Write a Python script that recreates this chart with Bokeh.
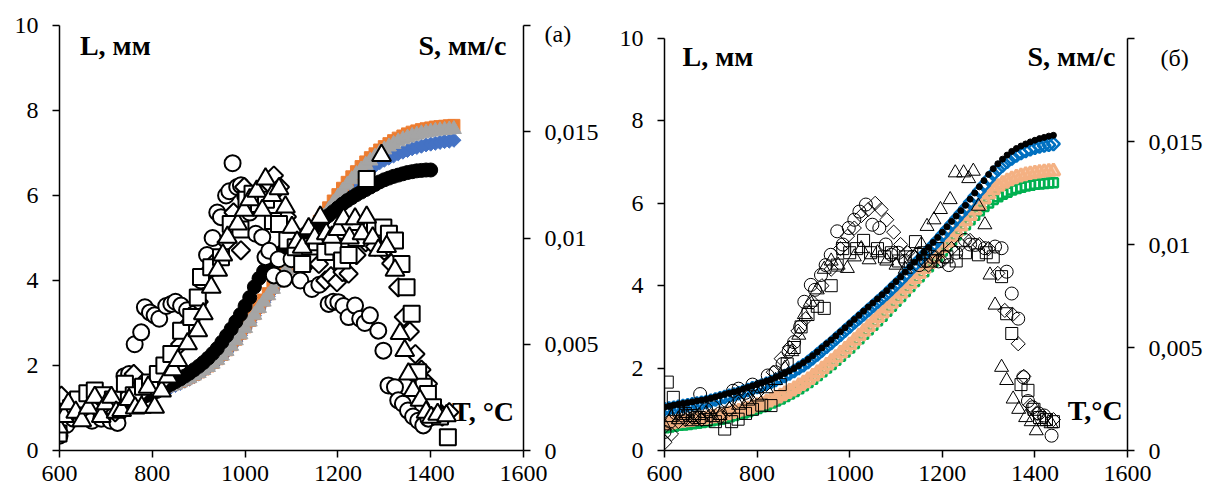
from bokeh.plotting import figure
from bokeh.models import Range1d, LinearAxis, FixedTicker, CustomJSTickFormatter, Label
from bokeh.layouts import row
from bokeh.embed import file_html
from bokeh.resources import INLINE
import math

FONT = "Liberation Serif"

X_TICKS = [600, 800, 1000, 1200, 1400, 1600]
L_TICKS = [0, 2, 4, 6, 8, 10]
S_TICKS = [0, 5, 10, 15, 20]          # S in 10^-3 mm/s
S_LABELS = ["0", "0,005", "0,01", "0,015"]

# ---------------- panel (a): L, mm (dense curves, 10 degC step from 600) -------------
a_L_black = [0.85, 0.88, 0.9, 0.92, 0.94, 0.96, 0.98, 1.0, 1.02, 1.04, 1.06, 1.08, 1.1, 1.12, 1.15,
             1.18, 1.2, 1.23, 1.26, 1.3, 1.34, 1.39, 1.44, 1.5, 1.56, 1.62, 1.68, 1.75, 1.82, 1.9,
             1.98, 2.07, 2.17, 2.28, 2.4, 2.55, 2.7, 2.86, 3.03, 3.2, 3.4, 3.6, 3.85, 4.05, 4.22,
             4.35, 4.47, 4.58, 4.68, 4.78, 4.87, 4.95, 5.03, 5.1, 5.18, 5.26, 5.35, 5.44, 5.53, 5.62,
             5.71, 5.8, 5.88, 5.95, 6.02, 6.08, 6.14, 6.2, 6.26, 6.32, 6.37, 6.41, 6.45, 6.48, 6.51,
             6.54, 6.56, 6.58, 6.59, 6.6, 6.6]
a_L_grey = [0.95, 0.98, 1.0, 1.02, 1.04, 1.06, 1.08, 1.1, 1.12, 1.14, 1.16, 1.18, 1.2, 1.22, 1.24,
            1.26, 1.28, 1.3, 1.33, 1.36, 1.39, 1.42, 1.45, 1.48, 1.51, 1.55, 1.6, 1.65, 1.7, 1.76,
            1.82, 1.89, 1.96, 2.04, 2.13, 2.23, 2.34, 2.46, 2.59, 2.73, 2.88, 3.03, 3.19, 3.35, 3.5,
            3.65, 3.8, 3.95, 4.1, 4.25, 4.4, 4.55, 4.7, 4.86, 5.02, 5.18, 5.34, 5.5, 5.66, 5.82,
            5.97, 6.11, 6.25, 6.38, 6.5, 6.61, 6.72, 6.82, 6.91, 7.0, 7.08, 7.15, 7.21, 7.27, 7.32,
            7.36, 7.4, 7.43, 7.46, 7.48, 7.5, 7.52, 7.53, 7.54, 7.55, 7.56]
a_L_orange = [1.0, 1.02, 1.04, 1.06, 1.08, 1.1, 1.12, 1.14, 1.16, 1.18, 1.2, 1.22, 1.24, 1.26, 1.28,
              1.3, 1.32, 1.34, 1.37, 1.4, 1.43, 1.46, 1.49, 1.52, 1.55, 1.59, 1.63, 1.68, 1.73, 1.79,
              1.85, 1.92, 1.99, 2.07, 2.16, 2.26, 2.37, 2.49, 2.62, 2.76, 2.91, 3.06, 3.22, 3.38, 3.54,
              3.69, 3.84, 3.99, 4.14, 4.29, 4.44, 4.59, 4.75, 4.91, 5.07, 5.23, 5.39, 5.55, 5.71, 5.87,
              6.02, 6.17, 6.31, 6.44, 6.56, 6.68, 6.79, 6.89, 6.98, 7.07, 7.15, 7.22, 7.29, 7.35, 7.4,
              7.45, 7.49, 7.52, 7.55, 7.57, 7.59, 7.61, 7.62, 7.63, 7.64, 7.65]
a_L_blue = [0.92, 0.95, 0.97, 0.99, 1.01, 1.03, 1.05, 1.07, 1.09, 1.11, 1.13, 1.15, 1.17, 1.19, 1.21,
            1.23, 1.25, 1.28, 1.31, 1.34, 1.37, 1.4, 1.43, 1.46, 1.49, 1.53, 1.58, 1.63, 1.68, 1.74,
            1.8, 1.87, 1.94, 2.02, 2.11, 2.21, 2.32, 2.44, 2.57, 2.71, 2.86, 3.01, 3.17, 3.33, 3.48,
            3.63, 3.78, 3.93, 4.08, 4.23, 4.38, 4.53, 4.68, 4.84, 5.0, 5.16, 5.32, 5.47, 5.62, 5.77,
            5.91, 6.04, 6.16, 6.27, 6.37, 6.46, 6.55, 6.63, 6.7, 6.77, 6.83, 6.88, 6.93, 6.98, 7.02,
            7.06, 7.1, 7.13, 7.16, 7.19, 7.21, 7.23, 7.25, 7.27, 7.28, 7.3]

# ---------------- panel (a): S, 10^-3 mm/s ----------------
a_S_circle_T = [600, 615, 630, 650, 670, 690, 710, 725, 740, 750, 762, 776, 784, 795, 805, 815, 830, 841,
                850, 862, 875, 891, 905, 918, 930, 940, 948, 959, 966, 973, 983, 991, 1000, 1010, 1023,
                1037, 1044, 1052, 1062, 1072, 1084, 1100, 1119, 1130, 1144, 1160, 1180, 1190, 1201, 1212,
                1223, 1237, 1248, 1258, 1269, 1287, 1298, 1309, 1323, 1330, 1340, 1351, 1362, 1373, 1384, 1395]
a_S_circle = [0.7, 1.2, 1.5, 1.6, 1.4, 1.5, 1.4, 1.3, 3.5, 3.6, 5.0, 5.56, 6.74, 6.5, 6.36, 6.2, 6.8, 6.9,
              7.0, 6.82, 6.6, 6.44, 8.0, 9.2, 10.0, 11.2, 10.98, 12.0, 12.2, 13.52, 12.4, 12.48, 12.0, 11.2, 10.2,
              10.04, 9.1, 9.4, 8.24, 9.0, 8.08, 9.0, 8.0, 8.8, 7.6, 7.8, 6.9, 7.0, 6.98, 6.8,
              6.28, 6.82, 6.2, 6.0, 6.36, 5.64, 4.7, 3.06, 2.98, 2.36, 2.2, 1.88, 1.6, 1.4, 1.18, 1.5]
a_S_square_T = [598, 612, 625, 640, 660, 676, 695, 715, 741, 760, 780, 795, 812, 826, 841, 862, 884, 898,
                905, 927, 948, 969, 990, 1003, 1016, 1030, 1045, 1060, 1073, 1091, 1109, 1123, 1140, 1155,
                1173, 1190, 1209, 1223, 1240, 1262, 1280, 1298, 1310, 1323, 1337, 1348, 1359, 1373, 1385,
                1394, 1405, 1420, 1437]
a_S_square = [0.8, 1.8, 2.0, 2.4, 2.7, 2.82, 2.6, 2.4, 3.14, 2.6, 3.0, 3.2, 3.6, 4.0, 4.54, 5.64, 6.28, 7.2,
              8.16, 8.62, 9.1, 10.66, 10.4, 11.8, 12.08, 11.6, 11.8, 10.8, 10.66, 9.88, 9.56, 8.78, 9.6, 9.8,
              9.34, 9.6, 8.94, 9.2, 10.0, 12.78, 10.4, 10.5, 10.2, 9.88, 8.78, 7.68, 6.44, 3.68, 3.0,
              2.66, 2.04, 1.6, 0.62]
a_S_tri_T = [598, 610, 619, 635, 648, 662, 676, 690, 700, 712, 722, 734, 750, 763, 777, 791, 805, 820, 834,
             845, 855, 876, 898, 910, 927, 941, 952, 962, 984, 998, 1010, 1025, 1037, 1044, 1058, 1073,
             1087, 1101, 1112, 1123, 1137, 1150, 1162, 1175, 1187, 1200, 1212, 1225, 1237, 1252, 1262,
             1275, 1287, 1294, 1305, 1323, 1334, 1344, 1352, 1362, 1377, 1390, 1401, 1415, 1434]
a_S_tri = [1.1, 1.6, 2.2, 1.8, 1.4, 2.0, 2.5, 1.6, 2.2, 2.5, 1.8, 1.88, 2.4, 2.0, 2.04, 2.98, 2.04, 2.8, 3.46,
           3.8, 4.24, 5.02, 5.64, 6.44, 7.68, 8.48, 9.2, 10.04, 10.66, 11.3, 11.8, 12.2, 11.3, 12.78, 12.0, 12.32,
           11.46, 10.5, 9.8, 9.56, 10.44, 10.0, 10.98, 10.2, 10.04, 10.4, 10.9, 10.0, 10.9, 10.2, 10.98,
           10.0, 9.42, 13.88, 9.6, 8.48, 5.5, 4.7, 3.6, 2.82, 2.36, 1.8, 1.56, 1.7, 1.64]
a_S_dia_T = [604, 620, 640, 660, 680, 700, 720, 740, 760, 780, 800, 820, 840, 860, 880, 900, 920, 940, 960,
             975, 991, 998, 1010, 1030, 1050, 1062, 1075, 1090, 1105, 1120, 1140, 1159, 1173, 1185, 1198,
             1210, 1223, 1240, 1260, 1280, 1300, 1315, 1330, 1342, 1355, 1367, 1380, 1394, 1410, 1425, 1440]
a_S_dia = [2.58, 2.0, 2.2, 2.4, 2.0, 2.2, 1.8, 2.4, 3.6, 2.8, 3.0, 3.2, 4.0, 5.0, 6.0, 7.0, 8.4, 9.0, 9.8,
           11.2, 9.42, 12.4, 11.6, 12.2, 12.6, 12.94, 12.4, 11.0, 10.0, 9.4, 9.2, 8.78, 8.0, 8.2, 7.92,
           8.4, 8.32, 9.2, 9.8, 9.6, 9.4, 8.8, 7.68, 6.28, 5.6, 4.54, 3.8, 3.14, 2.0, 1.6, 1.8]

# ---------------- panel (b): L, mm (dense curves, 10 degC step from 600) -------------
b_L_black = [1.05, 1.07, 1.1, 1.12, 1.14, 1.16, 1.18, 1.2, 1.22, 1.24, 1.27, 1.3, 1.33, 1.36, 1.39,
             1.42, 1.45, 1.49, 1.53, 1.57, 1.6, 1.64, 1.68, 1.72, 1.77, 1.82, 1.87, 1.93, 1.99, 2.06,
             2.13, 2.21, 2.3, 2.39, 2.49, 2.59, 2.68, 2.78, 2.88, 2.98, 3.08, 3.18, 3.28, 3.38, 3.48,
             3.58, 3.68, 3.78, 3.88, 3.99, 4.1, 4.21, 4.33, 4.45, 4.57, 4.69, 4.81, 4.93, 5.05, 5.17,
             5.3, 5.43, 5.56, 5.69, 5.82, 5.95, 6.1, 6.25, 6.4, 6.55, 6.7, 6.84, 6.96, 7.07, 7.17,
             7.26, 7.33, 7.39, 7.44, 7.49, 7.53, 7.57, 7.6, 7.63, 7.65]
b_L_blue = [1.0, 1.02, 1.04, 1.06, 1.08, 1.1, 1.12, 1.14, 1.16, 1.18, 1.21, 1.24, 1.27, 1.3, 1.33,
            1.36, 1.39, 1.43, 1.47, 1.51, 1.54, 1.58, 1.62, 1.66, 1.71, 1.76, 1.81, 1.87, 1.93, 2.0,
            2.07, 2.15, 2.24, 2.33, 2.43, 2.52, 2.61, 2.71, 2.81, 2.91, 3.01, 3.11, 3.21, 3.31, 3.41,
            3.51, 3.61, 3.71, 3.81, 3.92, 4.03, 4.14, 4.26, 4.38, 4.5, 4.62, 4.74, 4.86, 4.98, 5.1,
            5.23, 5.36, 5.49, 5.62, 5.75, 5.88, 6.02, 6.16, 6.3, 6.44, 6.58, 6.71, 6.82, 6.92, 7.01,
            7.09, 7.16, 7.22, 7.27, 7.31, 7.35, 7.38, 7.4, 7.42, 7.44]
b_L_salmon = [0.62, 0.64, 0.66, 0.68, 0.69, 0.7, 0.72, 0.73, 0.75, 0.77, 0.79, 0.81, 0.83, 0.86, 0.89,
              0.92, 0.95, 0.98, 1.01, 1.05, 1.09, 1.13, 1.17, 1.22, 1.27, 1.32, 1.38, 1.44, 1.5, 1.57,
              1.64, 1.72, 1.8, 1.89, 1.98, 2.07, 2.16, 2.26, 2.36, 2.46, 2.56, 2.67, 2.78, 2.89, 3.0,
              3.11, 3.22, 3.33, 3.45, 3.57, 3.69, 3.81, 3.93, 4.05, 4.17, 4.29, 4.41, 4.53, 4.66, 4.79,
              4.92, 5.05, 5.18, 5.31, 5.44, 5.57, 5.7, 5.83, 5.96, 6.1, 6.22, 6.32, 6.41, 6.48, 6.54,
              6.59, 6.63, 6.66, 6.69, 6.71, 6.73, 6.75, 6.76, 6.77, 6.78]
b_L_green = [0.55, 0.57, 0.59, 0.61, 0.62, 0.63, 0.65, 0.66, 0.68, 0.7, 0.72, 0.74, 0.76, 0.79, 0.82,
             0.85, 0.88, 0.91, 0.94, 0.98, 1.02, 1.06, 1.1, 1.15, 1.2, 1.25, 1.31, 1.37, 1.43, 1.5,
             1.57, 1.65, 1.73, 1.82, 1.91, 2.0, 2.09, 2.19, 2.29, 2.39, 2.49, 2.6, 2.71, 2.82, 2.93,
             3.04, 3.15, 3.26, 3.38, 3.5, 3.62, 3.74, 3.86, 3.98, 4.1, 4.22, 4.34, 4.46, 4.58, 4.71,
             4.84, 4.97, 5.1, 5.23, 5.36, 5.48, 5.6, 5.71, 5.82, 5.92, 6.01, 6.09, 6.16, 6.22, 6.27,
             6.32, 6.36, 6.39, 6.42, 6.44, 6.46, 6.47, 6.48, 6.49, 6.5]

# ---------------- panel (b): S, 10^-3 mm/s ----------------
b_S_circle_T = [600, 612, 625, 640, 655, 665, 677, 690, 705, 720, 735, 748, 760, 775, 790, 805, 823, 840,
                855, 868, 880, 893, 902, 916, 925, 938, 948, 959, 973, 985, 998, 1010, 1021, 1035, 1049,
                1064, 1078, 1090, 1105, 1120, 1135, 1150, 1165, 1178, 1192, 1205, 1214, 1230, 1249, 1260,
                1271, 1292, 1314, 1328, 1339, 1350, 1364, 1375, 1385, 1395, 1408, 1420, 1436]
b_S_circle = [0.9, 1.4, 1.8, 1.7, 2.0, 1.6, 2.74, 2.0, 2.1, 1.8, 2.4, 2.9, 3.0, 2.8, 3.2, 3.1, 3.64, 3.8,
              4.2, 4.8, 5.26, 6.0, 7.22, 8.04, 7.8, 8.52, 9.0, 9.5, 10.64, 10.0, 10.8, 11.2, 11.6, 11.94, 10.96,
              10.8, 10.0, 9.5, 9.6, 9.2, 9.4, 9.0, 9.2, 9.4, 9.18, 9.4, 9.0, 9.6, 10.22, 10.0,
              9.98, 9.82, 9.9, 9.82, 8.68, 7.62, 6.4, 3.56, 2.4, 2.1, 1.8, 1.7, 0.72]
b_S_square_T = [606, 619, 630, 645, 660, 675, 690, 710, 730, 745, 759, 775, 790, 810, 830, 850, 865, 880,
                895, 910, 930, 945, 960, 973, 985, 1000, 1015, 1030, 1045, 1060, 1075, 1090, 1105, 1120,
                1142, 1160, 1175, 1190, 1210, 1230, 1250, 1278, 1295, 1310, 1328, 1339, 1350, 1370, 1385,
                1398, 1410, 1425, 1440]
b_S_square = [3.32, 2.58, 2.0, 1.8, 1.7, 1.6, 1.5, 1.4, 1.04, 1.4, 1.52, 1.8, 2.0, 2.2, 2.18, 3.2, 4.2, 5.0,
              6.0, 6.6, 7.0, 6.9, 8.0, 9.0, 9.8, 9.6, 9.8, 10.2, 9.6, 9.8, 9.4, 9.6, 9.2, 9.4,
              10.14, 9.6, 9.2, 9.8, 9.4, 9.2, 9.6, 9.5, 9.6, 9.4, 8.44, 6.64, 5.68, 3.2, 2.92,
              2.0, 1.6, 1.5, 1.4]
b_S_tri_T = [600, 615, 630, 645, 660, 675, 690, 705, 720, 740, 760, 780, 800, 820, 840, 860, 875, 890, 902,
             915, 930, 945, 960, 975, 995, 1010, 1025, 1042, 1060, 1080, 1100, 1120, 1140, 1155, 1167,
             1182, 1196, 1217, 1228, 1246, 1257, 1267, 1278, 1292, 1303, 1314, 1328, 1339, 1353, 1365,
             1380, 1392, 1403, 1420, 1435]
b_S_tri = [1.2, 1.6, 1.5, 1.8, 1.4, 1.7, 1.8, 1.6, 1.7, 2.0, 2.2, 2.4, 2.6, 3.0, 3.4, 4.0, 4.8, 5.6, 6.6,
           7.2, 7.8, 8.8, 9.2, 9.0, 8.84, 9.4, 9.8, 9.26, 9.6, 9.2, 9.0, 8.8, 9.4, 10.0, 10.88,
           11.2, 11.7, 12.18, 13.48, 13.48, 13.2, 13.56, 11.86, 10.96, 8.52, 7.06, 4.04, 3.4, 2.5, 2.0,
           1.6, 1.4, 0.96, 1.4, 1.3]
b_S_dia_T = [601, 615, 630, 645, 660, 680, 700, 720, 740, 760, 780, 800, 820, 835, 852, 870, 888, 905, 920,
             940, 960, 980, 995, 1010, 1025, 1040, 1055, 1068, 1080, 1095, 1110, 1125, 1140, 1155, 1170,
             1185, 1200, 1220, 1240, 1260, 1280, 1300, 1320, 1335, 1352, 1364, 1376, 1390, 1405, 1420, 1440]
b_S_dia = [0.4, 0.8, 1.4, 1.5, 1.6, 1.5, 1.7, 1.6, 2.0, 2.4, 2.6, 2.8, 3.2, 3.8, 4.46, 5.0, 5.8, 6.4, 7.2,
           8.0, 8.8, 9.8, 10.4, 10.8, 11.4, 11.7, 12.0, 11.7, 11.2, 10.6, 10.0, 9.6, 9.4, 9.2, 9.0,
           9.4, 9.2, 9.8, 10.0, 10.2, 10.0, 9.8, 8.6, 6.8, 6.6, 5.18, 3.6, 2.2, 1.8, 1.6, 1.5]

# frame geometry (pixels): both frames share top 25 / bottom 450 inside a row
FRAME_TOP, FRAME_BOTTOM = 25, 450


def grid_T(vals):
    return list(range(600, 600 + 10 * len(vals), 10))


def style_axis(ax, standoff, tick_out=7):
    ax.axis_line_width = 1.5
    ax.axis_line_color = "black"
    ax.major_tick_line_width = 1.5
    ax.major_tick_line_color = "black"
    ax.major_tick_out = tick_out
    ax.major_tick_in = 0
    ax.minor_tick_line_color = None
    ax.major_label_text_font = FONT
    ax.major_label_text_font_size = "24px"
    ax.major_label_text_color = "black"
    ax.major_label_standoff = standoff


def make_fig(width, bl, br, tag, tag_pos, top_px):
    # the value axes run from the frame bottom (0) up to top_px (10 mm / 0.02 mm/s)
    span = FRAME_BOTTOM - top_px
    l_hi = 10 + (top_px - FRAME_TOP) * 10 / span
    s_hi = 20 + (top_px - FRAME_TOP) * 20 / span
    p = figure(width=width, height=492, x_range=Range1d(600, 1600), y_range=Range1d(0, l_hi),
               output_backend="svg", toolbar_location=None,
               min_border_left=bl, min_border_right=br,
               min_border_top=FRAME_TOP, min_border_bottom=492 - FRAME_BOTTOM)
    p.title.visible = False
    p.outline_line_color = None
    p.grid.visible = False
    p.background_fill_color = "white"
    p.border_fill_color = "white"
    p.extra_y_ranges = {"s": Range1d(0, s_hi)}
    p.xaxis.ticker = FixedTicker(ticks=X_TICKS)
    p.left[0].ticker = FixedTicker(ticks=L_TICKS)
    p.left[0].bounds = (0, 10)
    style_axis(p.xaxis[0], 8)
    style_axis(p.left[0], 14)

    # right S axis: line and tick marks
    rax = LinearAxis(y_range_name="s", ticker=FixedTicker(ticks=S_TICKS), bounds=(0, 20),
                     formatter=CustomJSTickFormatter(code="return '';"))
    style_axis(rax, 0)
    p.add_layout(rax, "right")
    # right S axis: tick labels (and the panel tag) without marks
    lab_ticks = S_TICKS[:4] + [tag_pos]
    lab_text = S_LABELS + [tag]
    rlab = LinearAxis(y_range_name="s", ticker=FixedTicker(ticks=lab_ticks),
                      formatter=CustomJSTickFormatter(
                          args=dict(t=lab_ticks, l=lab_text),
                          code="for (let i = 0; i < t.length; i++) { if (Math.abs(tick - t[i]) < 1e-6) return l[i]; } return '';"))
    style_axis(rlab, 14, tick_out=0)
    rlab.axis_line_color = None
    rlab.major_tick_line_color = None
    p.add_layout(rlab, "right")
    return p


def add_label(p, x, y, text, align, size="28px"):
    p.add_layout(Label(x=x, y=y, text=text, text_font=FONT, text_font_size=size,
                       text_font_style="bold", text_align=align,
                       text_baseline="middle", text_color="black"))


DIA = math.pi / 4

# ---------------- figure (a) ----------------
pa = make_fig(601, 59, 75, "(a)", 19.62, 25)
pa.scatter(grid_T(a_L_blue), a_L_blue, marker="square", angle=DIA, size=10,
           fill_color="#4472C4", line_color="#4472C4")
pa.scatter(grid_T(a_L_orange), a_L_orange, marker="square", size=12,
           fill_color="#ED7D31", line_color="#ED7D31")
pa.scatter(grid_T(a_L_grey), a_L_grey, marker="triangle", size=15,
           fill_color="#A5A5A5", line_color="#A5A5A5")
pa.scatter(grid_T(a_L_black), a_L_black, marker="circle", size=14,
           fill_color="black", line_color="black")
for T, S, mk, sz, ang in [(a_S_circle_T, a_S_circle, "circle", 16, 0),
                          (a_S_dia_T, a_S_dia, "square", 13, DIA),
                          (a_S_square_T, a_S_square, "square", 16, 0),
                          (a_S_tri_T, a_S_tri, "triangle", 19, 0)]:
    pa.scatter(T, S, y_range_name="s", marker=mk, size=sz, angle=ang,
               fill_color="white", line_color="black", line_width=2)

add_label(pa, 644, 9.53, "L, мм", "left")
add_label(pa, 1563, 9.53, "S, мм/с", "right")
add_label(pa, 1446, 0.92, "T, °C", "left")

# ---------------- figure (б) ----------------
pb = make_fig(604, 63, 75, "\u00a0\u00a0(б)", 19.07, 38)
pb.scatter(grid_T(b_L_green), b_L_green, marker="square", size=9,
           fill_color=None, line_color="#00B050", line_width=2.5)
pb.scatter(grid_T(b_L_salmon), b_L_salmon, marker="triangle", size=13,
           fill_color="#F4B183", fill_alpha=0.5, line_color="#F4B183", line_width=3)
pb.scatter(grid_T(b_L_blue), b_L_blue, marker="square", angle=DIA, size=9,
           fill_color=None, line_color="#0070C0", line_width=2.5)
pb.scatter(grid_T(b_L_black), b_L_black, marker="circle", size=6,
           fill_color="black", line_color="black")
for T, S, mk, sz, ang in [(b_S_circle_T, b_S_circle, "circle", 13, 0),
                          (b_S_dia_T, b_S_dia, "square", 10, DIA),
                          (b_S_square_T, b_S_square, "square", 12, 0),
                          (b_S_tri_T, b_S_tri, "triangle", 14, 0)]:
    pb.scatter(T, S, y_range_name="s", marker=mk, size=sz, angle=ang,
               fill_color=None, line_color="black", line_width=1)

add_label(pb, 639, 9.56, "L, мм", "left")
add_label(pb, 1574, 9.56, "S, мм/с", "right")
add_label(pb, 1471, 0.98, "T,°C", "left")

layout = row(pa, pb)
open("out.html", "w").write(file_html(layout, INLINE))
